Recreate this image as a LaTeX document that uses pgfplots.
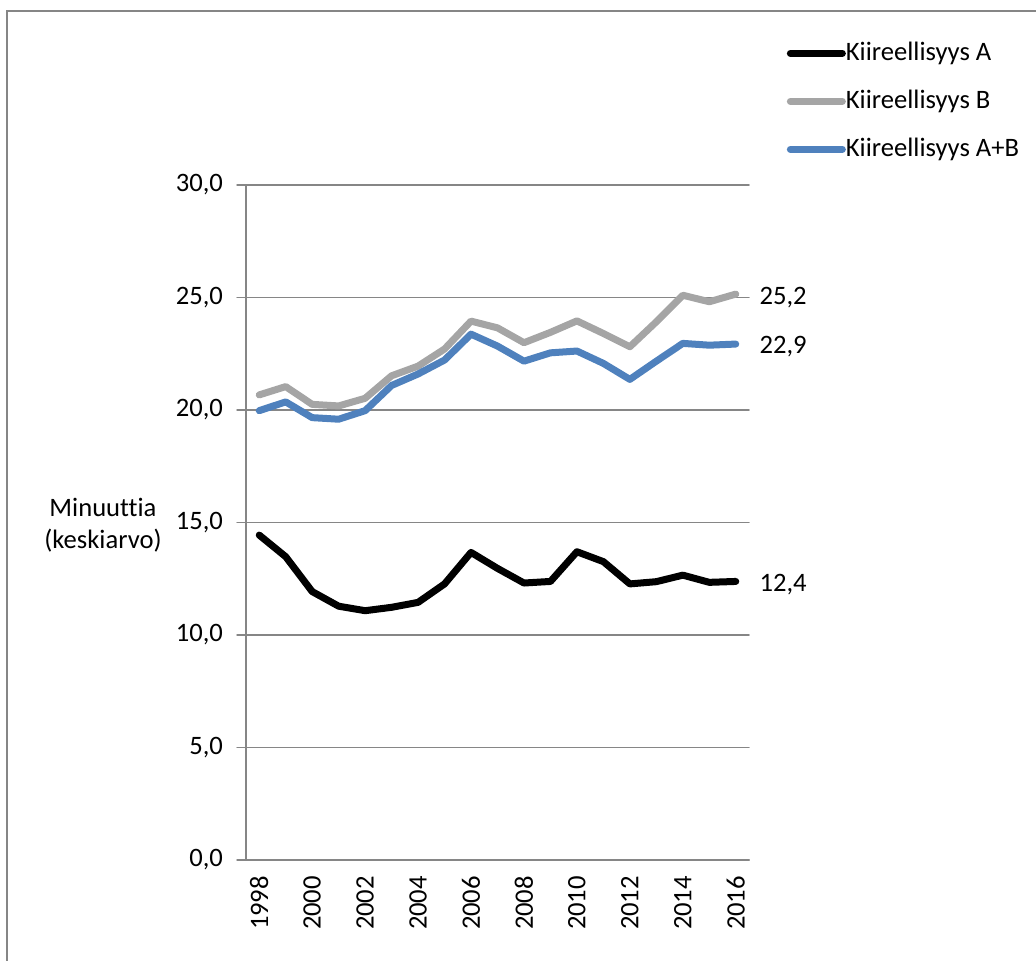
\documentclass[border=0pt]{standalone}
\usepackage{fontspec}
\setmainfont{Carlito}[Ligatures={NoCommon}]
\usepackage{pgfplots}
\usepackage{pgfplotstable}
\pgfplotsset{compat=1.18}

\definecolor{serA}{HTML}{000000}
\definecolor{serB}{HTML}{A5A5A5}
\definecolor{serAB}{HTML}{4F81BD}
\definecolor{gridgray}{HTML}{868686}

% idx: 0 = 1998 ... 18 = 2016
\pgfplotstableread{
idx  A      B      AB
0    14.44  20.67  19.97
1    13.48  21.04  20.36
2    11.93  20.25  19.66
3    11.28  20.18  19.59
4    11.08  20.52  19.97
5    11.23  21.52  21.09
6    11.45  21.95  21.60
7    12.27  22.71  22.22
8    13.67  23.95  23.37
9    12.96  23.65  22.84
10   12.31  22.99  22.17
11   12.38  23.45  22.54
12   13.70  23.96  22.62
13   13.26  23.40  22.07
14   12.27  22.81  21.36
15   12.37  23.92  22.17
16   12.66  25.10  22.96
17   12.34  24.81  22.88
18   12.38  25.15  22.93
}\datatable

\begin{document}
\begin{tikzpicture}[font=\fontsize{13.3}{16.2}\selectfont]
\useasboundingbox (-123pt,-50.5pt) rectangle (395pt,430pt);
\draw[gridgray, line width=0.75pt] (-119.6pt,-60pt) -- (-119.6pt,424.5pt) -- (400pt,424.5pt);
\begin{axis}[
    at={(0pt,0pt)}, anchor=south west,
    scale only axis,
    width=251.5pt, height=337.5pt,
    xmin=-0.5, xmax=18.5,
    ymin=0, ymax=30,
    axis x line=bottom, axis y line=left,
    axis line style={gridgray, line width=0.75pt, -},
    tick align=outside,
    major tick length=4.5pt, minor tick length=4.5pt,
    xtick={0,2,...,18},
    xticklabels={1998,2000,2002,2004,2006,2008,2010,2012,2014,2016},
    minor xtick={-0.5,0.5,...,18.5},
    xtick style={draw=none},
    minor x tick style={gridgray, line width=0.75pt},
    x tick label style={rotate=90, anchor=east, xshift=0pt},
    ytick={0,5,...,30},
    y tick style={gridgray, line width=0.75pt},
    yticklabel style={xshift=-3.5pt, /pgf/number format/.cd, fixed, fixed zerofill, precision=1, use comma, assume math mode=true},
    ymajorgrids,
    major grid style={gridgray, line width=0.75pt},
    line join=round, line cap=round,
    legend image code/.code={\draw[#1, line cap=round] (0pt,0pt) -- (26pt,0pt);},
    legend style={at={(1.0745,1.2133)}, anchor=north west, draw=none, fill=none,
        inner sep=0pt, row sep=12pt,
        nodes={inner sep=0pt, text height=9.5pt, text depth=2.5pt},
        /tikz/every even column/.append style={column sep=5pt}},
    legend cell align=left,
    clip=false,
]
\addplot[serA, line width=3.5pt] table[x=idx, y=A] {\datatable};
\addplot[serB, line width=3.5pt] table[x=idx, y=B] {\datatable};
\addplot[serAB, line width=3.5pt] table[x=idx, y=AB] {\datatable};
\legend{Kiireellisyys A, Kiireellisyys B, Kiireellisyys A+B}
\node[anchor=west, inner sep=0pt, xshift=11.7pt, yshift=-1.5pt] at (axis cs:18,25.15) {25,2};
\node[anchor=west, inner sep=0pt, xshift=11.7pt, yshift=-1.5pt] at (axis cs:18,22.93) {22,9};
\node[anchor=west, inner sep=0pt, xshift=11.7pt, yshift=-1.5pt] at (axis cs:18,12.38) {12,4};
\end{axis}
\node[align=center] at (-71.5pt,167.5pt) {Minuuttia\\(keskiarvo)};
\end{tikzpicture}
\end{document}
